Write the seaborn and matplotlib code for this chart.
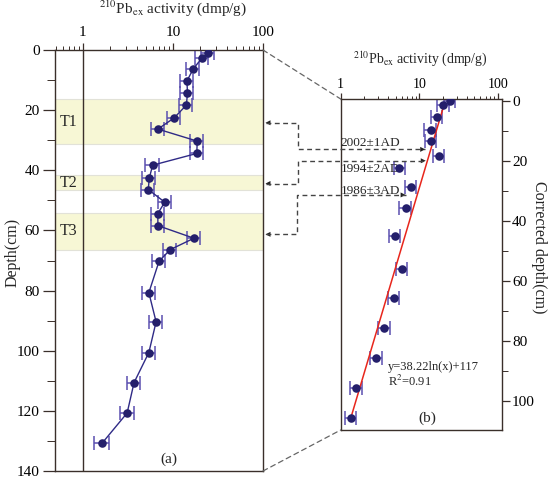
import numpy as np
import pandas as pd
import matplotlib
matplotlib.use("Agg")
import matplotlib.pyplot as plt
import seaborn as sns
from matplotlib.patches import ConnectionPatch, FancyArrowPatch
from matplotlib.lines import Line2D
from matplotlib.ticker import LogLocator, NullFormatter, FixedLocator

# ---------------- data ----------------
# Panel (a): raw profile
depth_a = [1, 2.5, 6.3, 10.3, 14.3, 18.3, 22.6, 26.3, 30.3, 34.4, 38.3, 42.6, 46.4,
           50.6, 54.4, 58.4, 62.6, 66.4, 70.3, 80.7, 90.4, 100.6, 110.6, 120.7, 130.7]
act_a = [24.7, 21.2, 16.8, 14.3, 14.5, 14.1, 10.3, 6.8, 18.6, 18.4, 5.95, 5.46, 5.32,
         8.1, 6.8, 6.8, 17.1, 9.3, 7.0, 5.4, 6.5, 5.4, 3.7, 3.1, 1.64]
err_a = [4.0, 3.5, 2.8, 2.3, 2.4, 2.3, 1.7, 1.1, 3.0, 3.0, 1.0, 0.9, 0.9,
         1.3, 1.1, 1.1, 2.8, 1.5, 1.2, 0.9, 1.1, 0.9, 0.6, 0.55, 0.32]

# Turbidite layers (top, bottom depth)
layer_names = ["T1", "T2", "T3"]
layer_top = [16.3, 41.7, 54.3]
layer_bot = [31.3, 46.5, 66.4]

# Panel (b): corrected profile
depth_b = [0, 1.4, 5.3, 9.7, 13.3, 18.2, 22.3, 28.6, 35.6, 45.0, 55.9, 65.6, 75.6,
           85.6, 95.6, 105.8]
act_b = [24.7, 20.3, 16.7, 13.9, 14.1, 17.9, 5.6, 7.9, 6.7, 4.9, 6.0, 4.8, 3.6,
         2.84, 1.57, 1.35]
err_b = [4.0, 3.3, 2.7, 2.3, 2.3, 2.9, 0.9, 1.3, 1.1, 0.8, 1.0, 0.8, 0.6,
         0.47, 0.27, 0.23]

# Fit: depth = 117 - 38.22 ln(x)
fit_a, fit_b = 38.22, 117.0
fit_x = [1.32, 21.0]

date_labels = ["2002±1AD", "1994±2AD", "1986±3AD"]
date_depth = [13.9, 22.7, 29.9]

# ---------------- style ----------------
sns.set_style("ticks")
plt.rcParams["font.family"] = ["Liberation Serif", "DejaVu Serif"]
plt.rcParams["mathtext.fontset"] = "stix"

W, H = 550, 487
fig = plt.figure(figsize=(W / 100, H / 100), dpi=100)

def fx(px):
    return px / W

def fy(py):
    return 1 - py / H

ax1 = fig.add_axes([fx(55), fy(471), fx(263) - fx(55), fy(50) - fy(471)])
ax2 = fig.add_axes([fx(340.7), fy(430), fx(501.7) - fx(340.7), fy(99) - fy(430)])

marker_c = "#241f6b"
err_c = "#5b50b0"
line_c = "#2f2a86"
spine_c = "#3a2f2a"

df_a = pd.DataFrame({"act": act_a, "depth": depth_a, "err": err_a})
df_b = pd.DataFrame({"act": act_b, "depth": depth_b, "err": err_b})

# ---------- panel (a) ----------
for t, b, n in zip(layer_top, layer_bot, layer_names):
    ax1.axhspan(t, b, facecolor="#f7f7d5", edgecolor="#e2e2d8", lw=0.8, zorder=0)
    ax1.text(0.7, (t + b) / 2, n, ha="center", va="center", fontsize=11.5)

ax1.axvline(1, color=spine_c, lw=1.0, zorder=1)
ax1.errorbar(df_a["act"], df_a["depth"], xerr=df_a["err"], fmt="none",
             ecolor=err_c, elinewidth=1.1, capsize=5, capthick=1.1, zorder=2)
sns.lineplot(data=df_a, x="act", y="depth", sort=False, orient="y", ax=ax1,
             color=line_c, lw=1.0, zorder=3, estimator=None)
sns.scatterplot(data=df_a, x="act", y="depth", ax=ax1, color=marker_c, s=38,
                edgecolor=marker_c, linewidth=0, zorder=4)

ax1.set_xscale("log")
ax1.set_xlim(0.49, 100)
ax1.set_ylim(140, 0)
ax1.xaxis.tick_top()
ax1.xaxis.set_major_locator(FixedLocator([1, 10, 100]))
ax1.set_xticklabels(["1", "10", "100"])
ax1.xaxis.set_minor_locator(LogLocator(base=10, subs=np.arange(2, 10)))
ax1.xaxis.set_minor_formatter(NullFormatter())
ax1.set_yticks(np.arange(0, 141, 20))
ax1.set_yticks(np.arange(10, 140, 20), minor=True)
ax1.tick_params(axis="x", which="major", length=5, width=0.9, pad=3, labelsize=11, colors=spine_c, labelcolor="black")
ax1.tick_params(axis="x", which="minor", length=3, width=0.7, colors=spine_c)
ax1.tick_params(axis="y", which="major", length=9, width=0.9, pad=2, labelsize=11, colors=spine_c, labelcolor="black")
ax1.tick_params(axis="y", which="minor", length=6, width=0.7, colors=spine_c)
ax1.xaxis.set_label_position("top")
ax1.set_xlabel(r"$^{210}$Pb$_{\rm ex}$ activity (dmp/g)", fontsize=11)
ax1.xaxis.set_label_coords(0.567, 1.088)
ax1.set_ylabel("Depth(cm)", fontsize=11.5, va="center")
ax1.yaxis.set_label_coords(-0.205, 0.52)
ax1.text(9.0, 136, "(a)", ha="center", va="center", fontsize=11)
for s in ax1.spines.values():
    s.set_visible(True)
    s.set_color(spine_c)
    s.set_linewidth(1.0)

# ---------- panel (b) ----------
ax2.errorbar(df_b["act"], df_b["depth"], xerr=df_b["err"], fmt="none",
             ecolor=err_c, elinewidth=1.1, capsize=5, capthick=1.1, zorder=2)
fit_df = pd.DataFrame({"act": fit_x,
                       "depth": [fit_b - fit_a * np.log(v) for v in fit_x]})
sns.lineplot(data=fit_df, x="act", y="depth", sort=False, ax=ax2, color="#e8261c",
             lw=1.1, zorder=3, estimator=None)
sns.scatterplot(data=df_b, x="act", y="depth", ax=ax2, color=marker_c, s=38,
                edgecolor=marker_c, linewidth=0, zorder=4)

ax2.set_xscale("log")
ax2.set_xlim(1, 112)
ax2.set_ylim(109.7, -0.7)
ax2.xaxis.tick_top()
ax2.xaxis.set_major_locator(FixedLocator([1, 10, 100]))
ax2.set_xticklabels(["1", "10", "100"])
ax2.xaxis.set_minor_locator(LogLocator(base=10, subs=np.arange(2, 10)))
ax2.xaxis.set_minor_formatter(NullFormatter())
ax2.yaxis.tick_right()
ax2.set_yticks(np.arange(0, 101, 20))
ax2.set_yticks(np.arange(10, 110, 20), minor=True)
ax2.tick_params(axis="x", which="major", length=4, width=0.9, pad=2, labelsize=10, colors=spine_c, labelcolor="black")
ax2.tick_params(axis="x", which="minor", length=2.5, width=0.7, colors=spine_c)
ax2.tick_params(axis="y", which="major", length=6, width=0.9, pad=1.5, labelsize=11, colors=spine_c, labelcolor="black")
ax2.tick_params(axis="y", which="minor", length=4, width=0.7, colors=spine_c)
ax2.xaxis.set_label_position("top")
ax2.set_xlabel(r"$^{210}$Pb$_{\rm ex}$ activity (dmp/g)", fontsize=10)
ax2.xaxis.set_label_coords(0.496, 1.109)
ax2.yaxis.set_label_position("right")
ax2.set_ylabel("Corrected depth(cm)", fontsize=11.5, rotation=270,
               va="center", ha="center")
ax2.yaxis.set_label_coords(1.232, 0.551)
for s in ax2.spines.values():
    s.set_visible(True)
    s.set_color(spine_c)
    s.set_linewidth(1.0)

for lab, d in zip(date_labels, date_depth):
    ax2.text(1.0, d, lab, ha="left", va="center", fontsize=9.5)
ax2.text(4.04, 88.6, "y=38.22ln(x)+117", ha="left", va="center", fontsize=9)
ax2.text(4.04, 93.5, r"R$^{2}$=0.91", ha="left", va="center", fontsize=9)
ax2.text(12.5, 105.8, "(b)", ha="center", va="center", fontsize=11)

# ---------- zoom connector lines ----------
for ya, yb in [(1, 1), (0, 0)]:
    cp = ConnectionPatch(xyA=(1, ya), coordsA=ax1.transAxes,
                         xyB=(0, yb), coordsB=ax2.transAxes,
                         linestyle=(0, (4, 3)), color="#666666", lw=0.9)
    fig.add_artist(cp)

# ---------- dashed arrows linking layers to dates ----------
arrow_left_depth = [24.2, 44.4, 61.3]
arrow_mid_px = [298.3, 298.3, 297.0]
arrow_right_act = [11.9, 12.1, 6.7]
arrow_right_depth = [16.1, 19.9, 31.3]
to_fig = fig.transFigure.inverted()
fig.canvas.draw()
for dl, mx, xr, dr in zip(arrow_left_depth, arrow_mid_px, arrow_right_act, arrow_right_depth):
    pl = to_fig.transform(ax1.transData.transform((100, dl)))
    pl = (pl[0] + fx(2.5), pl[1])
    pr = to_fig.transform(ax2.transData.transform((xr, dr)))
    xm = fx(mx)
    xs = [pl[0], xm, xm, pr[0]]
    ys = [pl[1], pl[1], pr[1], pr[1]]
    fig.add_artist(Line2D(xs, ys, transform=fig.transFigure, color="#444444",
                          lw=1.0, linestyle=(0, (3.5, 2.5))))
    for tip, tail in [((pl[0], pl[1]), (pl[0] + fx(8), pl[1])),
                      ((pr[0], pr[1]), (pr[0] - fx(8), pr[1]))]:
        fig.add_artist(FancyArrowPatch(
            posA=tail, posB=tip, transform=fig.transFigure,
            arrowstyle="-|>", mutation_scale=9, color="#222222", lw=0.0,
            shrinkA=0, shrinkB=0))

fig.savefig("out.png", dpi=100)
